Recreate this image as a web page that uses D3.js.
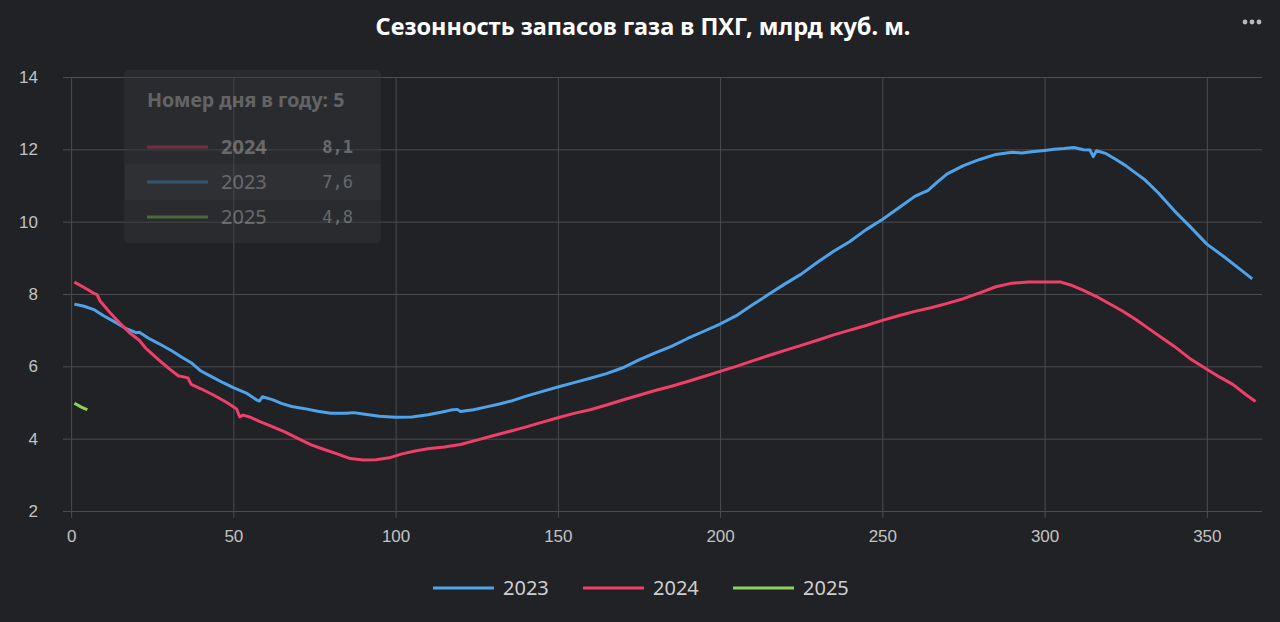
<!DOCTYPE html>
<meta charset="utf-8">
<script src="https://cdn.jsdelivr.net/npm/d3@7"></script>
<style>
html, body { margin: 0; padding: 0; background: #212226; }
svg { display: block; font-family: "Noto Sans", "Open Sans", sans-serif; }
.grid line { stroke: #4b4c50; stroke-width: 1px; }
.grid text { fill: #c2c2c2; font-size: 17px; }
</style>
<body>
</body>
<script>
// days of year and stored volume (bcm)
var days2023 = [1,4,7,10,14,17,20,21,24,27,31,34,37,40,44,47,50,54,57,58,59,62,65,68,72,76,80,85,87,90,95,100,105,110,114,117,119,120,124,128,132,136,140,145,150,155,160,165,170,175,180,185,190,195,200,205,210,215,220,225,230,235,240,245,250,255,260,262,264,267,270,275,280,285,290,293,296,300,303,306,309,312,314,315,316,319,322,325,328,331,335,340,345,350,355,360,364];
var vals2023 = [7.72,7.66,7.57,7.40,7.20,7.04,6.93,6.94,6.77,6.63,6.43,6.26,6.10,5.87,5.68,5.54,5.41,5.26,5.08,5.04,5.16,5.08,4.97,4.89,4.83,4.76,4.70,4.70,4.72,4.68,4.62,4.59,4.60,4.66,4.73,4.79,4.81,4.75,4.80,4.88,4.96,5.05,5.17,5.30,5.43,5.55,5.67,5.80,5.96,6.18,6.37,6.55,6.77,6.97,7.17,7.40,7.70,7.99,8.28,8.55,8.88,9.18,9.45,9.78,10.06,10.38,10.70,10.78,10.86,11.10,11.32,11.55,11.72,11.86,11.92,11.90,11.93,11.97,12.00,12.02,12.05,11.99,11.98,11.80,11.96,11.88,11.72,11.55,11.35,11.15,10.80,10.30,9.85,9.38,9.05,8.70,8.42];

var days2024 = [1,4,7,8,9,12,15,18,21,23,24,27,30,33,36,37,40,44,48,51,52,53,55,58,62,66,70,74,78,82,86,90,94,98,102,106,110,115,120,125,130,135,140,145,150,155,160,165,170,175,180,185,190,195,200,205,210,215,220,225,230,235,240,245,250,255,260,265,270,275,280,285,290,295,300,305,308,312,316,320,324,328,332,336,340,345,350,354,358,362,365];
var vals2024 = [8.33,8.18,8.02,7.98,7.80,7.48,7.20,6.93,6.72,6.50,6.42,6.18,5.95,5.74,5.68,5.50,5.38,5.20,5.00,4.82,4.60,4.65,4.60,4.48,4.33,4.18,4.00,3.83,3.70,3.58,3.45,3.41,3.42,3.47,3.58,3.66,3.72,3.77,3.84,3.96,4.08,4.20,4.32,4.45,4.58,4.70,4.80,4.93,5.07,5.20,5.33,5.45,5.58,5.72,5.86,6.00,6.15,6.30,6.44,6.58,6.72,6.87,7.00,7.13,7.27,7.40,7.52,7.62,7.74,7.87,8.03,8.20,8.30,8.33,8.33,8.33,8.25,8.10,7.93,7.73,7.53,7.30,7.05,6.80,6.55,6.20,5.92,5.70,5.50,5.22,5.03];

var days2025 = [1,2,3,4,5];
var vals2025 = [4.98,4.93,4.88,4.84,4.80];

var seriesNames = ["2023", "2024", "2025"];
var seriesColors = ["#4ea3ea", "#f03f6a", "#8fd15a"];

var xTicks = [0,50,100,150,200,250,300,350];
var yTicks = [2,4,6,8,10,12,14];

var title = "Сезонность запасов газа в ПХГ, млрд куб. м.";
var tipTitle = "Номер дня в году: 5";
var tipYears = ["2024", "2023", "2025"];
var tipValues = ["8,1", "7,6", "4,8"];
var tipColors = ["#f03f6a", "#4ea3ea", "#8fd15a"];

var W = 1280, H = 622;

var svg = d3.select("body").append("svg")
    .attr("width", W)
    .attr("height", H);

var x = d3.scaleLinear().domain([-2.5, 367]).range([63, 1262]);
var y = d3.scaleLinear().domain([2, 14]).range([511, 77]);

// title
svg.append("text")
    .attr("x", 643)
    .attr("y", 35)
    .attr("text-anchor", "middle")
    .attr("fill", "#ffffff")
    .attr("font-size", "23.5px")
    .attr("font-weight", "bold")
    .text(title);

// menu dots
svg.selectAll(".dot").data([0,1,2]).enter().append("circle")
    .attr("cx", function(d) { return 1245 + d * 7; })
    .attr("cy", 22)
    .attr("r", 2.4)
    .attr("fill", "#b9b9b9");

// horizontal grid + y labels
svg.append("g")
    .attr("class", "grid")
    .attr("transform", "translate(63,0)")
    .call(d3.axisLeft(y).tickValues(yTicks).tickSize(-(1262 - 63)).tickPadding(25))
    .call(function(g) { g.select(".domain").remove(); });

// vertical grid + x labels
svg.append("g")
    .attr("class", "grid")
    .attr("transform", "translate(0,518)")
    .call(d3.axisBottom(x).tickValues(xTicks).tickSize(-(518 - 77)).tickPadding(12))
    .call(function(g) { g.select(".domain").remove(); });

var line = d3.line()
    .x(function(d) { return x(d[0]); })
    .y(function(d) { return y(d[1]); });

var series = [
  d3.zip(days2023, vals2023),
  d3.zip(days2024, vals2024),
  d3.zip(days2025, vals2025)
];

svg.append("g").selectAll("path")
    .data(series)
    .enter().append("path")
    .attr("d", line)
    .attr("fill", "none")
    .attr("stroke", function(d, i) { return seriesColors[i]; })
    .attr("stroke-width", 3)
    .attr("stroke-linejoin", "round");

// faded tooltip
var tip = svg.append("g").attr("opacity", 0.4);
tip.append("rect")
    .attr("x", 124).attr("y", 70)
    .attr("width", 257).attr("height", 173)
    .attr("rx", 5)
    .attr("fill", "#38393e");
tip.append("rect")
    .attr("x", 125).attr("y", 164)
    .attr("width", 255).attr("height", 36)
    .attr("fill", "#45464b");
tip.append("text")
    .attr("x", 147).attr("y", 107)
    .attr("fill", "#c8c8c8")
    .attr("font-size", "19.5px")
    .attr("font-weight", "bold")
    .text(tipTitle);

var rows = tip.selectAll(".row").data(tipYears).enter().append("g")
    .attr("transform", function(d, i) { return "translate(0," + (147 + i * 35) + ")"; });
rows.append("line")
    .attr("x1", 147).attr("x2", 208)
    .attr("stroke", function(d, i) { return tipColors[i]; })
    .attr("stroke-width", 3);
rows.append("text")
    .attr("x", 221).attr("dy", "0.35em")
    .attr("fill", "#d0d0d0")
    .attr("font-size", "20px")
    .attr("font-weight", function(d, i) { return i == 0 ? "bold" : "normal"; })
    .text(function(d) { return d; });
rows.append("text")
    .attr("x", 353).attr("dy", "0.35em")
    .attr("text-anchor", "end")
    .attr("fill", "#d0d0d0")
    .attr("font-family", "DejaVu Sans Mono, monospace")
    .attr("font-size", "17px")
    .attr("font-weight", function(d, i) { return i == 0 ? "bold" : "normal"; })
    .text(function(d, i) { return tipValues[i]; });

// legend
var legend = svg.selectAll(".legendItem").data(seriesNames).enter().append("g")
    .attr("transform", function(d, i) { return "translate(" + (433 + i * 150) + ",588)"; });
legend.append("line")
    .attr("x1", 0).attr("x2", 61)
    .attr("stroke", function(d, i) { return seriesColors[i]; })
    .attr("stroke-width", 3);
legend.append("text")
    .attr("x", 70).attr("dy", "0.35em")
    .attr("fill", "#cfcfcf")
    .attr("font-size", "20px")
    .text(function(d) { return d; });
</script>
